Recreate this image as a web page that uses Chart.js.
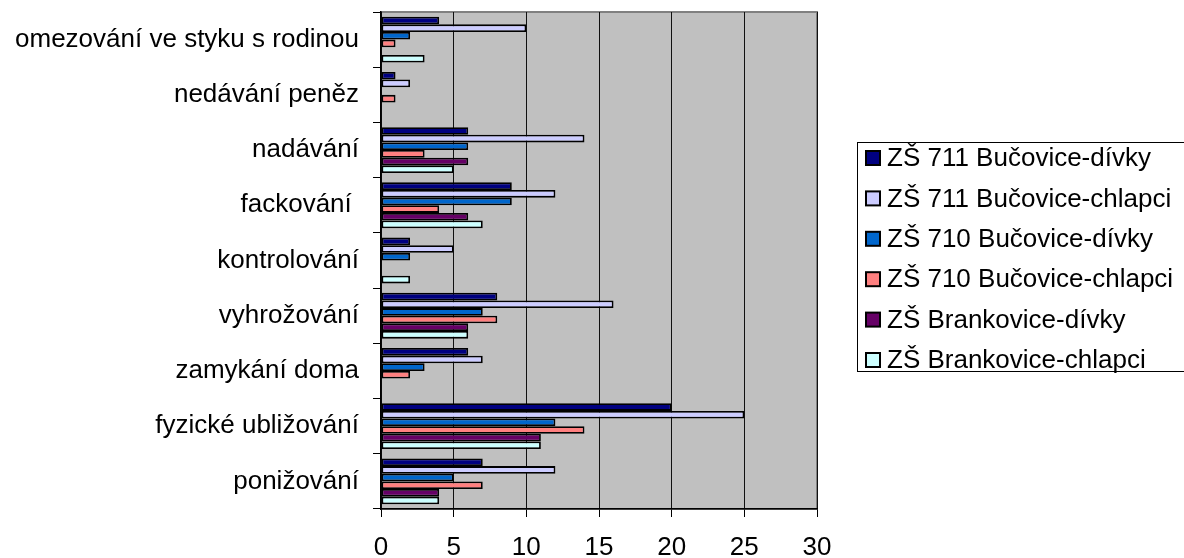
<!DOCTYPE html>
<html>
<head>
<meta charset="utf-8">
<script src="https://cdn.jsdelivr.net/npm/chart.js@4/dist/chart.umd.min.js"></script>
<style>
  html, body { margin: 0; padding: 0; background: #fff; }
  #wrap { width: 1184px; height: 558px; position: relative; }
</style>
</head>
<body>
<div id="wrap"><canvas id="chart" width="1184" height="558"></canvas></div>
<script>
'use strict';

/* data, categories listed top to bottom */
const categories = [
    'omezování ve styku s rodinou',
    'nedávání peněz',
    'nadávání',
    'fackování ',
    'kontrolování',
    'vyhrožování',
    'zamykání doma',
    'fyzické ubližování',
    'ponižování',
];
const seriesNames = [
    'ZŠ 711 Bučovice-dívky',
    'ZŠ 711 Bučovice-chlapci',
    'ZŠ 710 Bučovice-dívky',
    'ZŠ 710 Bučovice-chlapci',
    'ZŠ Brankovice-dívky',
    'ZŠ Brankovice-chlapci',
];
const zs711Divky   = [4, 1, 6, 9, 2, 8, 6, 20, 7];
const zs711Chlapci = [10, 2, 14, 12, 5, 16, 7, 25, 12];
const zs710Divky   = [2, 0, 6, 9, 2, 7, 3, 12, 5];
const zs710Chlapci = [1, 1, 3, 4, 0, 8, 2, 14, 7];
const brankDivky   = [0, 0, 6, 6, 0, 6, 0, 11, 4];
const brankChlapci = [3, 0, 5, 7, 2, 6, 0, 11, 4];
const xTicks = [0, 5, 10, 15, 20, 25, 30];

const COLORS = ['#000080', '#CCCCFF', '#0066CC', '#FF8080', '#660066', '#CCFFFF'];
const FONT = "'Liberation Sans', Arial, sans-serif";

const seriesValues = [zs711Divky, zs711Chlapci, zs710Divky, zs710Chlapci, brankDivky, brankChlapci];

/* grey plot area with border */
const plotBg = {
    id: 'plotBg',
    beforeDraw(chart) {
        const { ctx, chartArea: a } = chart;
        ctx.save();
        ctx.fillStyle = '#C0C0C0';
        ctx.fillRect(a.left, a.top, a.right - a.left, a.bottom - a.top);
        ctx.strokeStyle = '#808080';
        ctx.lineWidth = 2;
        ctx.strokeRect(a.left, a.top, a.right - a.left, a.bottom - a.top);
        ctx.restore();
    },
};

/* boxed legend on the right */
const boxLegend = {
    id: 'boxLegend',
    afterDraw(chart) {
        const { ctx } = chart;
        const x = 857, y = 142, w = 340, h = 229;
        ctx.save();
        ctx.strokeStyle = '#000';
        ctx.lineWidth = 1;
        ctx.strokeRect(x + 0.5, y + 0.5, w, h);
        ctx.font = '26px ' + FONT;
        ctx.textBaseline = 'middle';
        chart.data.datasets.forEach((ds, i) => {
            const cy = y + 16 + i * 40.4;
            ctx.fillStyle = ds.backgroundColor;
            ctx.fillRect(866, cy - 7, 14, 14);
            ctx.strokeStyle = '#000';
            ctx.lineWidth = 2;
            ctx.strokeRect(866, cy - 7, 14, 14);
            ctx.fillStyle = '#000';
            ctx.fillText(ds.label, 887, cy + 1);
        });
        ctx.restore();
    },
};

new Chart(document.getElementById('chart'), {
    type: 'bar',
    data: {
        labels: categories,
        datasets: seriesValues.map((vals, i) => ({
            label: seriesNames[i],
            data: vals,
            backgroundColor: COLORS[i],
            borderColor: '#000',
            borderWidth: 1.8,
            borderSkipped: false,
            barPercentage: 1,
            categoryPercentage: 0.83,
        })),
    },
    options: {
        indexAxis: 'y',
        responsive: false,
        animation: false,
        layout: { padding: { top: 12, right: 367, left: 0, bottom: 0 } },
        plugins: {
            legend: { display: false },
            tooltip: { enabled: false },
        },
        scales: {
            x: {
                min: 0,
                max: 30,
                afterBuildTicks(scale) { scale.ticks = xTicks.map(v => ({ value: v })); },
                afterFit(scale) { scale.height = 49; scale.paddingLeft = 0; scale.paddingRight = 0; },
                border: { color: '#000', width: 1.5 },
                grid: { color: '#101010', lineWidth: 1, tickLength: 8, tickColor: '#000' },
                ticks: { color: '#000', font: { family: FONT, size: 26 }, padding: 15 },
            },
            y: {
                afterFit(scale) { scale.width = 381; scale.paddingTop = 0; scale.paddingBottom = 0; },
                border: { color: '#000', width: 1.5 },
                grid: { drawOnChartArea: false, offset: true, tickLength: 8, tickColor: '#000' },
                ticks: { color: '#000', font: { family: FONT, size: 26 }, padding: 14 },
            },
        },
    },
    plugins: [plotBg, boxLegend],
});
</script>
</body>
</html>
